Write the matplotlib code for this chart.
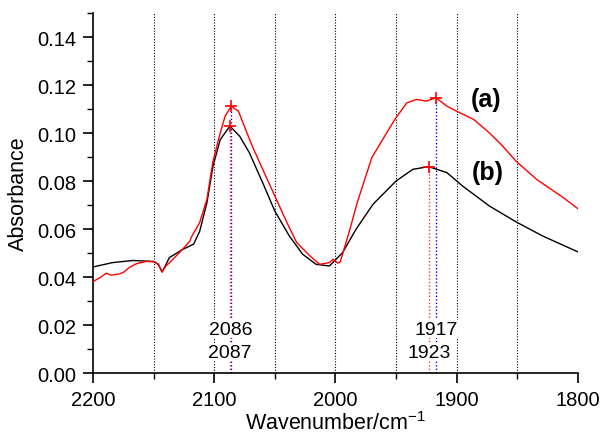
import matplotlib
matplotlib.use("Agg")
import matplotlib.pyplot as plt
from matplotlib.ticker import MultipleLocator, FormatStrFormatter

plt.rcParams['font.family'] = ['Liberation Sans', 'DejaVu Sans']
plt.rcParams['mathtext.fontset'] = 'custom'
plt.rcParams['mathtext.rm'] = 'Liberation Sans'
plt.rcParams['mathtext.it'] = 'Liberation Sans:italic'
plt.rcParams['mathtext.bf'] = 'Liberation Sans:bold'

# Spectrum (a) - red
wn_a = [2200, 2194, 2189, 2185, 2179, 2175, 2170, 2164, 2156, 2149, 2146, 2143, 2140, 2134,
        2126, 2120, 2119, 2112, 2106, 2101, 2095, 2091, 2086, 2080, 2073, 2068, 2060, 2050,
        2040, 2032, 2021, 2013, 2005, 2002, 1998, 1996, 1988, 1982, 1970, 1956, 1950, 1941, 1933,
        1925, 1917, 1908, 1900, 1886, 1873, 1862, 1851, 1834, 1812, 1800]
abs_a = [0.0381, 0.0398, 0.0416, 0.0408, 0.0412, 0.0419, 0.0440, 0.0456, 0.0465, 0.0463, 0.0450, 0.0421, 0.0445, 0.0474,
         0.0516, 0.0550, 0.0565, 0.0627, 0.0724, 0.0883, 0.1001, 0.1070, 0.1112, 0.1091, 0.1001, 0.0939, 0.0849, 0.0738,
         0.0627, 0.0544, 0.0488, 0.0453, 0.0460, 0.0474, 0.0458, 0.0463, 0.0599, 0.0710, 0.0897, 0.1015, 0.1064, 0.1126, 0.1140,
         0.1133, 0.1147, 0.1112, 0.1091, 0.1057, 0.1001, 0.0946, 0.0883, 0.0807, 0.0731, 0.0685]

# Spectrum (b) - black
wn_b = [2200, 2184, 2167, 2150, 2146, 2143, 2140, 2137, 2126, 2117, 2112, 2106, 2101, 2095,
        2087, 2079, 2071, 2060, 2050, 2038, 2027, 2016, 2005, 1994, 1983, 1969, 1950, 1936,
        1923, 1908, 1895, 1873, 1851, 1829, 1800]
abs_b = [0.0442, 0.0460, 0.0469, 0.0465, 0.0453, 0.0421, 0.0450, 0.0481, 0.0515, 0.0537, 0.0590, 0.0710, 0.0862, 0.0973,
         0.1029, 0.0987, 0.0918, 0.0793, 0.0675, 0.0571, 0.0495, 0.0453, 0.0446, 0.0502, 0.0599, 0.0703, 0.0800, 0.0849,
         0.0860, 0.0835, 0.0779, 0.0696, 0.0630, 0.0571, 0.0505]

# Peak markers
peak_wn = [2086, 2087, 1917, 1923]
peak_abs = [0.1112, 0.1029, 0.1147, 0.0860]
peak_labels = ["2086", "2087", "1917", "1923"]
peak_colors = ["blue", "red", "blue", "red"]
label_y = [0.0183, 0.0087, 0.0183, 0.0087]

grid_wn = [2150, 2100, 2050, 2000, 1950, 1900, 1850]

fig = plt.figure(figsize=(6.0, 4.39), dpi=100)
ax = fig.add_axes([0.155, 0.148, 0.808, 0.820])

for g in grid_wn:
    ax.axvline(g, color='black', lw=0.8, linestyle=(0, (1, 1.5)), zorder=1)

ax.plot(wn_b, abs_b, color='black', lw=1.0, zorder=3)
ax.plot(wn_a, abs_a, color='red', lw=1.0, zorder=3)

for w, a, lab, c, ly in zip(peak_wn, peak_abs, peak_labels, peak_colors, label_y):
    ax.plot([w, w], [0, a], color=c, lw=1.0, linestyle=(0, (1, 1.5)), zorder=2,
            alpha=0.8 if c == 'red' else 1)
    ax.plot([w], [a], marker='+', color='red', ms=8, mew=1.2, zorder=4)
    ax.text(w, ly, lab, ha='center', va='center', fontsize=14, zorder=5,
            bbox=dict(facecolor='white', edgecolor='none', pad=0.5))

ax.text(1876, 0.1140, "(a)", fontsize=18, fontweight='bold', ha='center', va='center')
ax.text(1874.5, 0.0836, "(b)", fontsize=18, fontweight='bold', ha='center', va='center')

ax.set_xlim(2200, 1800)
ax.set_ylim(0, 0.15)
ax.set_xticks([2200, 2100, 2000, 1900, 1800])
ax.set_yticks([0.00, 0.02, 0.04, 0.06, 0.08, 0.10, 0.12, 0.14])
ax.yaxis.set_major_formatter(FormatStrFormatter('%.2f'))
ax.xaxis.set_minor_locator(MultipleLocator(50))
ax.yaxis.set_minor_locator(MultipleLocator(0.01))
ax.tick_params(which='major', direction='out', length=7, width=1.2, labelsize=14.5, pad=5)
ax.tick_params(which='minor', direction='out', length=4, width=1.0)
for s in ['top', 'right']:
    ax.spines[s].set_visible(False)
for s in ['left', 'bottom']:
    ax.spines[s].set_linewidth(1.2)

ax.set_xlabel("Wavenumber/cm$^{\\mathregular{-1}}$", fontsize=15.5, labelpad=2)
ax.set_ylabel("Absorbance", fontsize=15.5, labelpad=6)

fig.savefig("out.png", dpi=100)
